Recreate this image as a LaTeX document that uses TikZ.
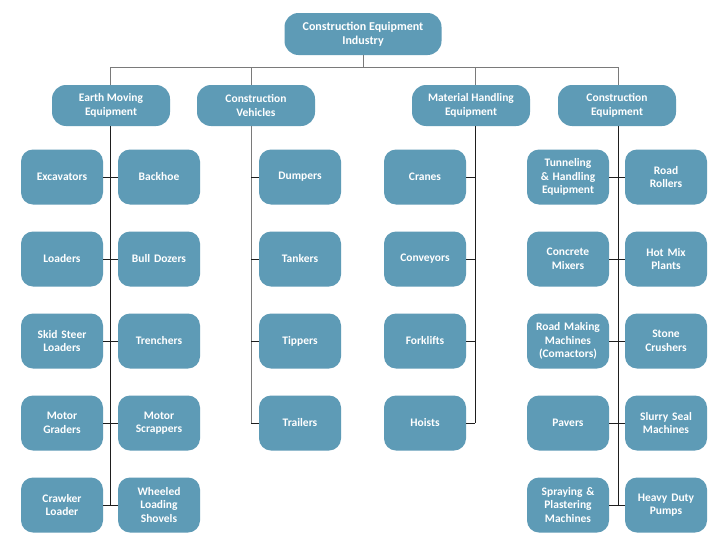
\documentclass[tikz,border=0pt]{standalone}
\usepackage{fontspec}
\setmainfont{Carlito}
\definecolor{boxblue}{HTML}{5E9BB6}
\definecolor{lgray}{HTML}{7A7A7A}
\definecolor{dline}{HTML}{1E1E1E}
\begin{document}
\begin{tikzpicture}[x=1pt,y=-1pt,
  base/.style={fill=boxblue,draw=none,text=white,align=center,
    font=\fontsize{11.5}{13.6}\selectfont\bfseries,inner sep=2pt},
  topbox/.style={base,minimum width=157pt,minimum height=42pt,rounded corners=14pt,
    font=\fontsize{12}{14}\selectfont\bfseries},
  catbox/.style={base,minimum width=118pt,minimum height=41pt,rounded corners=14pt},
  itembox/.style={base,minimum width=80pt,minimum height=55pt,rounded corners=12pt,text width=78pt},
  bar/.style={draw=lgray,line width=0.8pt},
  conn/.style={draw=dline,line width=0.8pt}]
\useasboundingbox (0,0) rectangle (728,546);
\fill[white] (0,0) rectangle (728,546);

\node[topbox] (root) at (363,34) {Construction Equipment\\Industry};
\node[catbox] (em) at (111,105.5) {Earth Moving\\Equipment};
\node[catbox] (cv) at (256,105.5) {Construction\\Vehicles};
\node[catbox] (mh) at (471,105.5) {Material Handling\\Equipment};
\node[catbox] (ce) at (617,105.5) {Construction\\Equipment};

% Earth moving
\node[itembox] (exc) at (62,177) {Excavators};
\node[itembox] (bac) at (159,177) {Backhoe};
\node[itembox] (loa) at (62,259) {Loaders};
\node[itembox] (bul) at (159,259) {Bull Dozers};
\node[itembox] (ski) at (62,341) {Skid Steer\\Loaders};
\node[itembox] (tre) at (159,341) {Trenchers};
\node[itembox] (mgr) at (62,423) {Motor\\Graders};
\node[itembox] (msc) at (159,423) {Motor\\Scrappers};
\node[itembox] (cra) at (62,505) {Crawker\\Loader};
\node[itembox] (whe) at (159,505) {Wheeled\\Loading\\Shovels};
% Vehicles
\node[itembox] (dum) at (300,177) {Dumpers};
\node[itembox] (tan) at (300,259) {Tankers};
\node[itembox] (tip) at (300,341) {Tippers};
\node[itembox] (trl) at (300,423) {Trailers};
% Material handling
\node[itembox] (crn) at (425,177) {Cranes};
\node[itembox] (con) at (425,259) {Conveyors};
\node[itembox] (frk) at (425,341) {Forklifts};
\node[itembox] (hoi) at (425,423) {Hoists};
% Construction equipment
\node[itembox] (tun) at (568,177) {Tunneling\\\& Handling\\Equipment};
\node[itembox] (rro) at (666,177) {Road\\Rollers};
\node[itembox] (cmx) at (568,259) {Concrete\\Mixers};
\node[itembox] (hmx) at (666,259) {Hot Mix\\Plants};
\node[itembox] (rmm) at (568,341) {Road Making\\Machines\\(Comactors)};
\node[itembox] (sto) at (666,341) {Stone\\Crushers};
\node[itembox] (pav) at (568,423) {Pavers};
\node[itembox] (slu) at (666,423) {Slurry Seal\\Machines};
\node[itembox] (spr) at (568,505) {Spraying \&\\Plastering\\Machines};
\node[itembox] (hdp) at (666,505) {Heavy Duty\\Pumps};

% spine coordinates on the bar
\coordinate (s1) at (110,67);
\coordinate (s2) at (251,67);
\coordinate (s3) at (475,67);
\coordinate (s4) at (618,67);

% top bar
\draw[bar] (root.south) -- (root.south |- s1);
\draw[bar] (s1) -- (s4);
\draw[bar] (s1) -- (s1 |- em.north);
\draw[bar] (s2) -- (s2 |- cv.north);
\draw[bar] (s3) -- (s3 |- mh.north);
\draw[bar] (s4) -- (s4 |- ce.north);

% Earth moving spine
\draw[conn] (s1 |- em.south) -- (s1 |- cra.east);
\foreach \a/\b in {exc/bac,loa/bul,ski/tre,mgr/msc,cra/whe}
  \draw[conn] (\a.east) -- (\b.west);
% Vehicles spine
\draw[bar] (s2 |- cv.south) -- (s2 |- trl.west);
\foreach \b in {dum,tan,tip,trl}
  \draw[conn] (s2 |- \b.west) -- (\b.west);
% Material handling spine
\draw[conn] (s3 |- mh.south) -- (s3 |- hoi.east);
\foreach \a in {crn,con,frk,hoi}
  \draw[conn] (\a.east) -- (s3 |- \a.east);
% Construction equipment spine
\draw[conn] (s4 |- ce.south) -- (s4 |- spr.east);
\foreach \a/\b in {tun/rro,cmx/hmx,rmm/sto,pav/slu,spr/hdp}
  \draw[conn] (\a.east) -- (\b.west);
\end{tikzpicture}
\end{document}
